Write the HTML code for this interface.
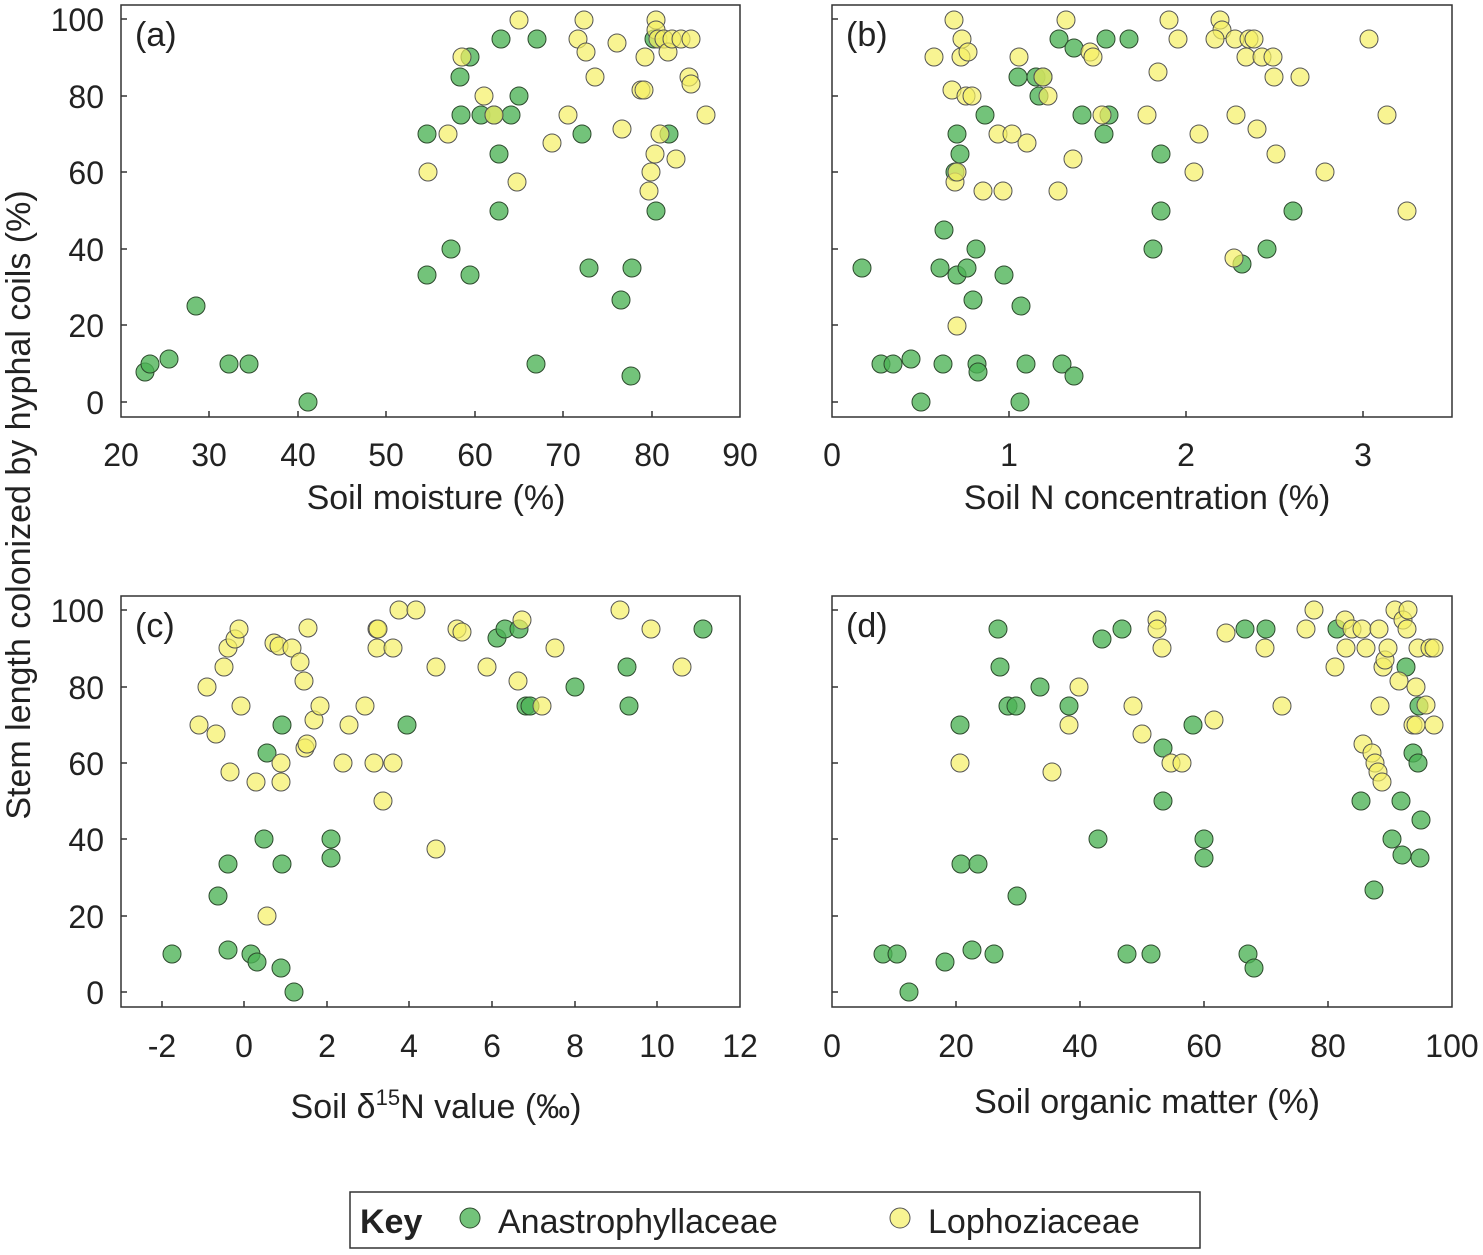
<!DOCTYPE html>
<html><head><meta charset="utf-8"><style>
body{margin:0;background:#fff;}
svg{display:block;font-family:"Liberation Sans",Arial,sans-serif;}
.t{font-size:32px;fill:#222;}
.l{font-size:34px;fill:#222;}
.g{fill:rgba(75,178,85,0.78);stroke:#2d4a2d;stroke-width:1;}
.y{fill:rgba(245,240,100,0.7);stroke:#555;stroke-width:1;}
</style></head><body>
<svg id="s" width="1483" height="1255" viewBox="0 0 1483 1255">
<g fill="none" stroke="#333" stroke-width="1.5">
<rect x="121" y="5" width="619" height="412"/>
<rect x="832" y="5" width="620" height="412"/>
<rect x="121" y="596" width="619" height="411"/>
<rect x="832" y="596" width="620" height="411"/>
<rect x="350" y="1192" width="850" height="56"/>
</g>
<g id="ticks" stroke="#333" stroke-width="1.5"></g>
<g class="t" text-anchor="end">
<text x="104" y="31">100</text><text x="104" y="108">80</text><text x="104" y="184">60</text><text x="104" y="261">40</text><text x="104" y="337">20</text><text x="104" y="414">0</text>
<text x="104" y="622">100</text><text x="104" y="699">80</text><text x="104" y="775">60</text><text x="104" y="851">40</text><text x="104" y="928">20</text><text x="104" y="1004">0</text>
</g>
<g class="t" text-anchor="middle">
<text x="121" y="466">20</text><text x="209" y="466">30</text><text x="298" y="466">40</text><text x="386" y="466">50</text><text x="475" y="466">60</text><text x="563" y="466">70</text><text x="652" y="466">80</text><text x="740" y="466">90</text>
<text x="832" y="466">0</text><text x="1009" y="466">1</text><text x="1186" y="466">2</text><text x="1363" y="466">3</text>
<text x="162" y="1057">-2</text><text x="244" y="1057">0</text><text x="327" y="1057">2</text><text x="409" y="1057">4</text><text x="492" y="1057">6</text><text x="575" y="1057">8</text><text x="657" y="1057">10</text><text x="740" y="1057">12</text>
<text x="832" y="1057">0</text><text x="956" y="1057">20</text><text x="1080" y="1057">40</text><text x="1204" y="1057">60</text><text x="1328" y="1057">80</text><text x="1452" y="1057">100</text>
</g>
<g class="l" text-anchor="middle">
<text x="436" y="509">Soil moisture (%)</text>
<text x="1147" y="509">Soil N concentration (%)</text>
<text x="436" y="1118">Soil δ<tspan font-size="22" dy="-13">15</tspan><tspan dy="13">N value (‰)</tspan></text>
<text x="1147" y="1113">Soil organic matter (%)</text>
<text transform="translate(30,505) rotate(-90)">Stem length colonized by hyphal coils (%)</text>
</g>
<g class="l"><text x="135" y="46">(a)</text><text x="846" y="46">(b)</text><text x="135" y="637">(c)</text><text x="846" y="637">(d)</text></g>
<g id="pts"></g>
<text x="360" y="1233" class="l" font-weight="bold">Key</text>
<circle cx="470" cy="1218" r="10" class="g"/>
<text x="498" y="1233" class="l">Anastrophyllaceae</text>
<circle cx="900" cy="1218" r="10" class="y"/>
<text x="928" y="1233" class="l">Lophoziaceae</text>
</svg>
<script>
var G=[[145,372],[150,364],[169,359],[196,306],[229,364],[249,364],[308,402],[427,134],[427,275],[451,249],[460,77],[461,115],[470,57],[470,275],[481,115],[494,115],[499,154],[499,211],[501,39],[511,115],[519,96],[537,39],[536,364],[582,134],[589,268],[621,300],[631,376],[632,268],[654,39],[656,211],[669,134],
[862,268],[881,364],[893,364],[911,359],[921,402],[943,364],[944,230],[940,268],[957,134],[957,275],[955,172],[960,154],[967,268],[985,115],[973,300],[977,364],[978,372],[976,249],[1004,275],[1018,77],[1021,306],[1020,402],[1026,364],[1036,77],[1039,96],[1043,77],[1059,39],[1062,364],[1074,376],[1074,48],[1082,115],[1104,134],[1106,39],[1109,115],[1129,39],[1153,249],[1161,154],[1161,211],[1242,264],[1267,249],[1293,211],
[172,954],[218,896],[228,864],[228,950],[251,954],[257,962],[281,968],[294,992],[264,839],[267,753],[282,725],[282,864],[331,839],[331,858],[407,725],[497,638],[505,629],[519,629],[526,706],[530,706],[575,687],[627,667],[629,706],[703,629],
[883,954],[897,954],[909,992],[945,962],[960,725],[961,864],[972,950],[978,864],[994,954],[998,629],[1000,667],[1008,706],[1016,706],[1017,896],[1040,687],[1069,706],[1098,839],[1102,639],[1122,629],[1127,954],[1151,954],[1163,748],[1163,801],[1193,725],[1204,839],[1204,858],[1245,629],[1248,954],[1254,968],[1266,629],[1337,629],[1361,801],[1374,890],[1401,801],[1392,839],[1402,855],[1406,667],[1413,753],[1418,763],[1419,706],[1421,820],[1420,858]];
var Y=[[428,172],[448,134],[462,57],[484,96],[494,115],[517,182],[519,20],[552,143],[568,115],[578,39],[584,20],[586,52],[595,77],[617,43],[622,129],[641,90],[644,90],[645,57],[649,191],[651,172],[655,154],[656,20],[656,30],[658,39],[660,134],[664,39],[668,52],[672,39],[676,159],[681,39],[689,77],[691,84],[691,39],[706,115],
[934,57],[954,20],[952,90],[961,57],[966,96],[955,182],[957,172],[972,96],[962,39],[968,52],[983,191],[998,134],[1003,191],[1012,134],[1019,57],[1027,143],[957,326],[1048,96],[1043,77],[1058,191],[1066,20],[1073,159],[1090,52],[1093,57],[1102,115],[1147,115],[1158,72],[1169,20],[1178,39],[1194,172],[1199,134],[1220,20],[1222,30],[1215,39],[1235,39],[1236,115],[1246,57],[1249,39],[1257,129],[1254,39],[1262,57],[1273,57],[1274,77],[1276,154],[1300,77],[1325,172],[1234,258],[1369,39],[1387,115],[1407,211],
[199,725],[207,687],[216,734],[224,667],[228,648],[230,772],[235,639],[239,629],[241,706],[256,782],[267,916],[274,643],[279,646],[281,763],[281,782],[292,648],[300,662],[304,681],[308,628],[305,748],[307,744],[314,720],[320,706],[343,763],[349,725],[365,706],[374,763],[377,629],[377,648],[378,629],[383,801],[393,648],[393,763],[399,610],[416,610],[436,667],[436,849],[457,629],[462,632],[487,667],[518,681],[522,620],[542,706],[555,648],[620,610],[651,629],[682,667],
[960,763],[1069,725],[1079,687],[1052,772],[1133,706],[1142,734],[1157,620],[1157,629],[1162,648],[1171,763],[1182,763],[1214,720],[1226,633],[1265,648],[1282,706],[1306,629],[1314,610],[1335,667],[1345,620],[1346,648],[1352,629],[1362,629],[1366,648],[1363,744],[1372,753],[1375,763],[1378,772],[1382,782],[1379,629],[1383,667],[1385,660],[1380,706],[1388,648],[1395,610],[1399,681],[1403,620],[1407,629],[1408,610],[1413,725],[1416,687],[1418,648],[1416,725],[1430,648],[1434,648],[1434,725],[1426,705]];
var ns="http://www.w3.org/2000/svg",p=document.getElementById("pts");
function add(a,c){a.forEach(function(q){var e=document.createElementNS(ns,"circle");e.setAttribute("cx",q[0]);e.setAttribute("cy",q[1]);e.setAttribute("r",9);e.setAttribute("class",c);p.appendChild(e);});}
add(G,"g");add(Y,"y");
var t=document.getElementById("ticks");
function ln(x1,y1,x2,y2){var e=document.createElementNS(ns,"line");e.setAttribute("x1",x1);e.setAttribute("y1",y1);e.setAttribute("x2",x2);e.setAttribute("y2",y2);t.appendChild(e);}
[121,832].forEach(function(x){[19,96,172,249,325,402].forEach(function(y){ln(x,y,x+6,y);});[610,687,763,839,916,992].forEach(function(y){ln(x,y,x+6,y);});});
[209,298,386,475,563,652].forEach(function(x){ln(x,417,x,411);});
[1009,1186,1363].forEach(function(x){ln(x,417,x,411);});
[162,244,327,409,492,575,657].forEach(function(x){ln(x,1007,x,1001);});
[956,1080,1204,1328].forEach(function(x){ln(x,1007,x,1001);});
</script>
</body></html>
